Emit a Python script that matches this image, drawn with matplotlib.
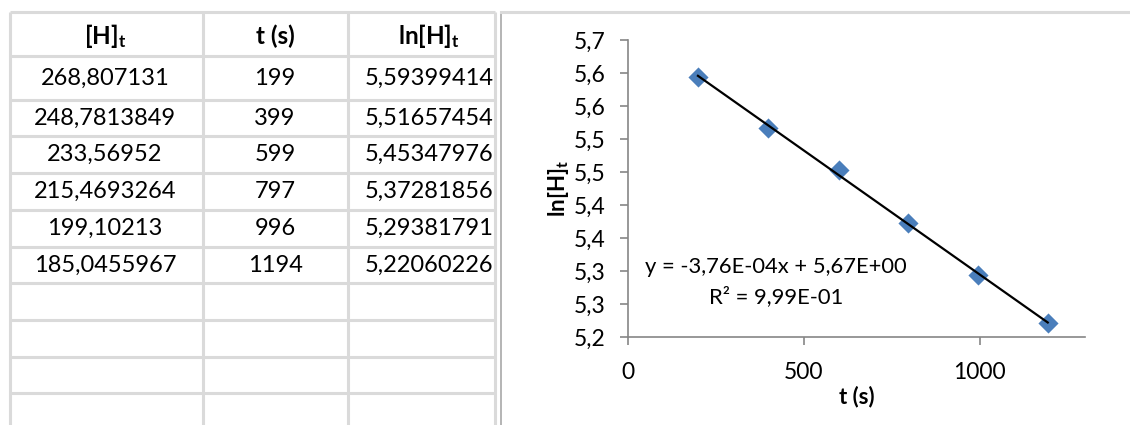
import numpy as np
import matplotlib
matplotlib.use("Agg")
import matplotlib.pyplot as plt

plt.rcParams['font.family'] = ['Lato', 'DejaVu Sans']
plt.rcParams['mathtext.fontset'] = 'custom'
plt.rcParams['mathtext.rm'] = 'Lato'
plt.rcParams['mathtext.bf'] = 'Lato:bold'

# measured data
conc = [268.807131, 248.7813849, 233.56952, 215.4693264, 199.10213, 185.0455967]
times = [199, 399, 599, 797, 996, 1194]
ln_conc = [5.59399414, 5.51657454, 5.45347976, 5.37281856, 5.29381791, 5.22060226]
headers = [r'$\mathbf{[H]_t}$', 't (s)', r'$\mathbf{ln[H]_t}$']

y_ticks = [5.20, 5.25, 5.30, 5.35, 5.40, 5.45, 5.50, 5.55, 5.60, 5.65]
x_ticks = [0, 500, 1000]


def comma(s):
    return s.replace('.', ',')


def excel_round(v, nd=1):
    # round half up like the spreadsheet does for axis labels
    return np.floor(v * 10**nd + 0.5 + 1e-9) / 10**nd


fig = plt.figure(figsize=(11.3, 4.25), dpi=100)

# sheet background with the table
bg = fig.add_axes([0, 0, 1, 1])
bg.set_xlim(0, 1130)
bg.set_ylim(425, 0)
bg.axis('off')

grid_c = '#dadada'
col_x = [10, 203, 348, 495]
row_y = [12, 56, 100, 136, 173, 210, 247, 283, 320, 357, 393, 430]
for x in col_x:
    bg.plot([x, x], [12, 425], color=grid_c, lw=2.2, solid_capstyle='butt')
for y in row_y:
    bg.plot([10, 495], [y, y], color=grid_c, lw=2.2, solid_capstyle='butt')

# chart area border
bg.plot([501, 501], [12, 425], color='#a8a8a8', lw=1.2)
bg.plot([501, 1130], [12, 12], color=grid_c, lw=2.2)

centers = [105, 275, 429]
for cx, h in zip(centers, headers):
    bg.text(cx, 36, h, ha='center', va='center', fontsize=17.5, fontweight='bold')

for i in range(len(conc)):
    yc = (row_y[i + 1] + row_y[i + 2]) / 2
    row = [comma(str(conc[i])), str(times[i]), comma(str(ln_conc[i]))]
    for cx, s in zip(centers, row):
        bg.text(cx, yc, s, ha='center', va='center', fontsize=17)

# scatter chart with linear trendline
ax = fig.add_axes([628 / 1130, 1 - 337 / 425, (1085 - 628) / 1130, (337 - 40) / 425])
ax.set_facecolor('none')
ax.scatter(times, ln_conc, marker='D', s=105, color='#4a7ebb', zorder=3, linewidths=0)

slope, intercept = np.polyfit(times, ln_conc, 1)
fit = np.polyval([slope, intercept], times)
r2 = 1 - np.sum((np.array(ln_conc) - fit) ** 2) / np.sum((np.array(ln_conc) - np.mean(ln_conc)) ** 2)
tx = np.array([min(times), max(times)])
ax.plot(tx, slope * tx + intercept, color='black', lw=1.6, zorder=4)

ax.set_xlim(0, 1300)
ax.set_ylim(5.2, 5.65)
ax.set_xticks(x_ticks)
ax.set_xticklabels([str(v) for v in x_ticks])
ax.set_yticks(y_ticks)
ax.set_yticklabels([comma('%.1f' % excel_round(v)) for v in y_ticks])

for side in ['top', 'right']:
    ax.spines[side].set_visible(False)
for side in ['left', 'bottom']:
    ax.spines[side].set_color('#868686')
    ax.spines[side].set_linewidth(1.2)
ax.tick_params(axis='both', colors='#868686', labelcolor='black', labelsize=16.5,
               length=6, width=1.2, direction='out')
ax.tick_params(axis='x', pad=12)
ax.tick_params(axis='y', pad=10)

ax.set_xlabel('t (s)', fontsize=16, fontweight='bold', labelpad=2)
ax.set_ylabel(r'$\mathbf{ln[H]_t}$', fontsize=16, labelpad=2)

eq = 'y = %sx + %s' % (comma('%.2E' % slope), comma('%.2E' % intercept))
r2_txt = 'R² = %s' % comma('%.2E' % r2)
bg.text(776, 267, eq, ha='center', va='center', fontsize=15.8)
bg.text(776, 297, r2_txt, ha='center', va='center', fontsize=15.8)

fig.savefig('out.png', dpi=100)
